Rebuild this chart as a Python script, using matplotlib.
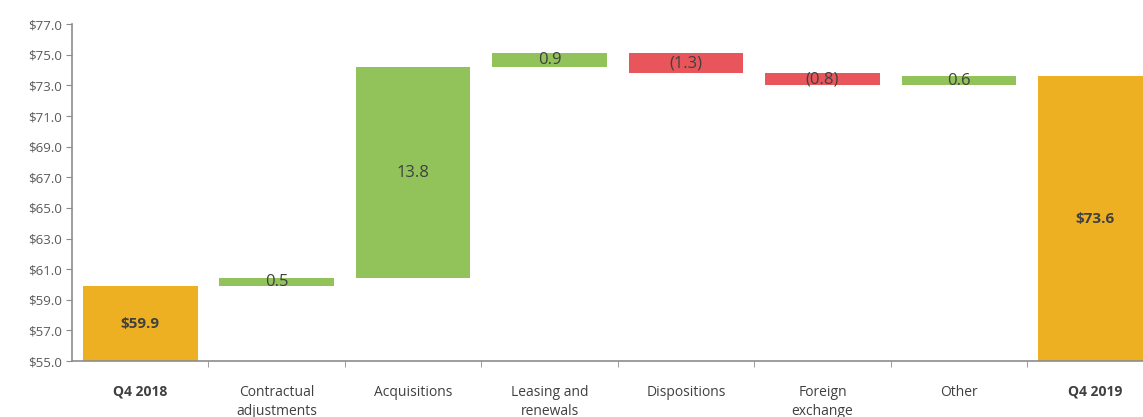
import numpy as np
import matplotlib.pyplot as plt
from matplotlib.ticker import FuncFormatter, FixedLocator

# waterfall data
categories = ["Q4 2018", "Contractual\nadjustments", "Acquisitions", "Leasing and\nrenewals",
              "Dispositions", "Foreign\nexchange", "Other", "Q4 2019"]
start_value = 59.9
changes = [0.5, 13.8, 0.9, -1.3, -0.8, 0.6]
end_value = 73.6
change_labels = ["0.5", "13.8", "0.9", "(1.3)", "(0.8)", "0.6"]

gold = "#EDB022"
green = "#92C35B"
red = "#E8555B"
txt = "#404040"

plt.rcParams['font.family'] = ['Open Sans', 'DejaVu Sans']

fig = plt.figure(figsize=(11.43, 4.17), dpi=100)
ax = fig.add_axes([0.063, 0.134, 0.955, 0.808])

n = len(categories)
x = np.arange(n)
w = 0.84

# total bars
ax.bar(x[0], start_value - 55, bottom=55, width=w, color=gold)
ax.bar(x[-1], end_value - 55, bottom=55, width=w, color=gold)
ax.text(x[0], (55 + start_value) / 2, "$%.1f" % start_value, ha="center", va="center",
        fontsize=11, fontweight="bold", color=txt)
ax.text(x[-1], (55 + end_value) / 2, "$%.1f" % end_value, ha="center", va="center",
        fontsize=11, fontweight="bold", color=txt)

# change bars
level = start_value
for i, (c, lab) in enumerate(zip(changes, change_labels)):
    xi = x[i + 1]
    lo = min(level, level + c)
    ax.bar(xi, abs(c), bottom=lo, width=w, color=green if c >= 0 else red)
    ax.text(xi, lo + abs(c) / 2, lab, ha="center", va="center", fontsize=12, color=txt)
    level += c

ax.set_xlim(-0.5, n - 0.5)
ax.set_ylim(55, 77)
ax.set_yticks(np.arange(55, 77.1, 2))
ax.yaxis.set_major_formatter(FuncFormatter(lambda v, p: "$%.1f" % v))

ax.set_xticks(x)
ax.set_xticklabels(categories, linespacing=1.35)
ax.xaxis.set_minor_locator(FixedLocator(np.arange(0.5, n - 0.5, 1)))
ax.tick_params(axis="x", which="major", length=0, pad=17, labelsize=10, labelcolor=txt)
ax.tick_params(axis="x", which="minor", length=4, color="#8C8C8C", direction="out")
ax.tick_params(axis="y", length=4, color="#8C8C8C", labelsize=9.5, labelcolor="#595959")
for lbl in ax.get_xticklabels():
    if lbl.get_text().startswith("Q4"):
        lbl.set_fontweight("bold")

for s in ["top", "right"]:
    ax.spines[s].set_visible(False)
for s in ["left", "bottom"]:
    ax.spines[s].set_color("#8C8C8C")
    ax.spines[s].set_linewidth(1.2)

plt.savefig("out.png", dpi=100)
